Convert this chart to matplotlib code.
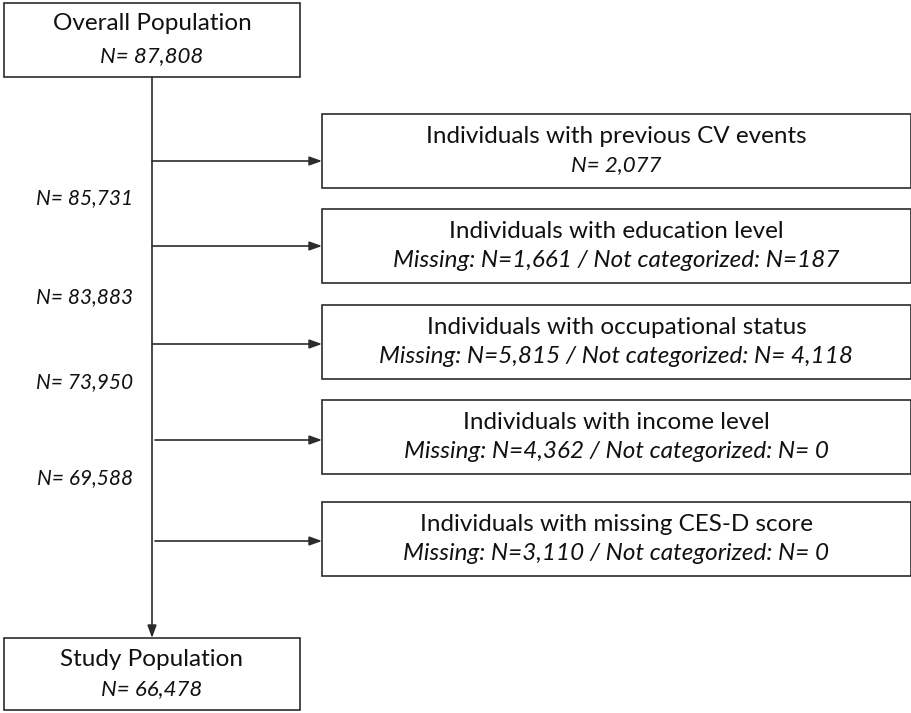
import matplotlib.pyplot as plt
from matplotlib.patches import Rectangle, FancyArrowPatch

# flowchart content
top_title = "Overall Population"
top_n = 87808
bottom_title = "Study Population"
bottom_n = 66478
excl_titles = [
    "Individuals with previous CV events",
    "Individuals with education level",
    "Individuals with occupational status",
    "Individuals with income level",
    "Individuals with missing CES-D score",
]
excl_details = [
    "N= 2,077",
    "Missing: N=1,661 / Not categorized: N=187",
    "Missing: N=5,815 / Not categorized: N= 4,118",
    "Missing: N=4,362 / Not categorized: N= 0",
    "Missing: N=3,110 / Not categorized: N= 0",
]
remaining_n = [85731, 83883, 73950, 69588]

FONT = ["Lato", "DejaVu Sans"]
EDGE = "#2b2b2b"
FS_REG = 17.5
FS_N = 16       # short "N= ..." lines
FS_DETAIL = 17.5  # "Missing: ..." lines

fig = plt.figure(figsize=(9.12, 7.13), dpi=100)
ax = fig.add_axes([0, 0, 1, 1])
ax.set_xlim(0, 912)
ax.set_ylim(713, 0)
ax.axis("off")


def box(x0, y0, x1, y1, line1, line2, gap=15):
    ax.add_patch(Rectangle((x0, y0), x1 - x0, y1 - y0, fill=False,
                           edgecolor=EDGE, linewidth=1.2))
    cx = (x0 + x1) / 2
    cy = (y0 + y1) / 2
    fs2 = FS_DETAIL if line2.startswith("Missing") else FS_N
    ax.text(cx, cy - gap, line1, ha="center", va="center", fontsize=FS_REG,
            family=FONT, color="#111111")
    ax.text(cx, cy + gap, line2, ha="center", va="center", fontsize=fs2,
            family=FONT, style="italic", color="#111111")


def arrow(p0, p1):
    ax.add_patch(FancyArrowPatch(p0, p1, arrowstyle="-|>,head_length=5,head_width=1.8",
                                 mutation_scale=1.5, color=EDGE, linewidth=1.2,
                                 shrinkA=0, shrinkB=0))


# main column
spine_x = 152
box(4, 3, 300, 77, top_title, "N= {:,}".format(top_n), gap=16)
box(4, 638, 300, 710, bottom_title, "N= {:,}".format(bottom_n), gap=15)
arrow((spine_x, 77), (spine_x, 638))

# exclusion boxes
box_tops = [114, 209, 305, 400, 502]
box_h = 74
arrow_y = [161, 246, 344, 440, 541]
for i, (t, d) in enumerate(zip(excl_titles, excl_details)):
    y0 = box_tops[i]
    box(322, y0, 911, y0 + box_h, t, d, gap=14.5)
    x_start = spine_x if i < 3 else spine_x + 3
    arrow((x_start, arrow_y[i]), (322, arrow_y[i]))

# remaining counts along the spine
label_y = [198, 297, 382, 478]
for n, y in zip(remaining_n, label_y):
    ax.text(133, y, "N= {:,}".format(n), ha="right", va="center", fontsize=15,
            family=FONT, style="italic", color="#111111")

fig.savefig("out.png", dpi=100)
